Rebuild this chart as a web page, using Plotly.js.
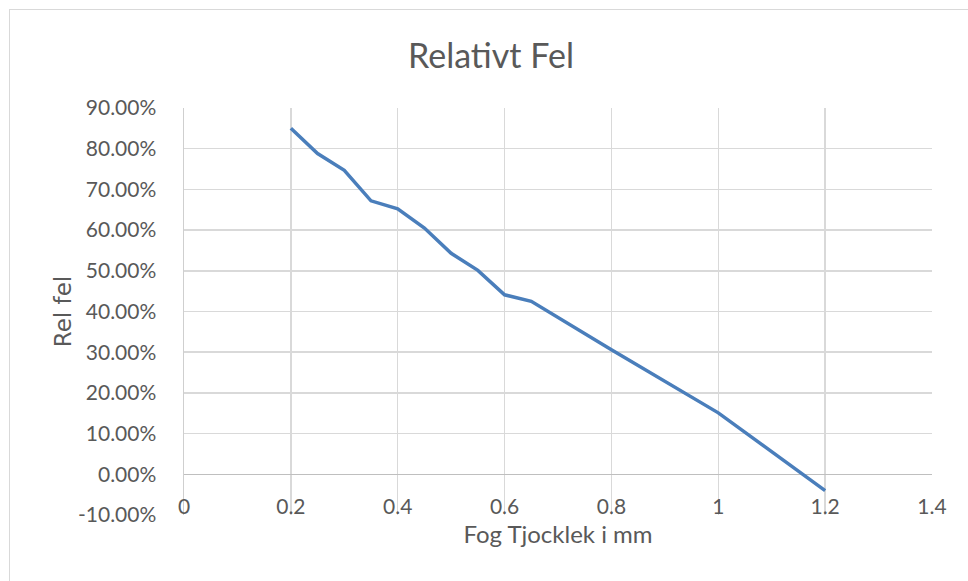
<!DOCTYPE html>
<html>
<head>
<meta charset="utf-8">
<script src="https://cdn.plot.ly/plotly-3.0.1.min.js"></script>
<style>
  html, body { margin: 0; padding: 0; background: #ffffff; overflow: hidden; }
  #frame { position: absolute; left: 9px; top: 9px; width: 980px; height: 600px; border: 1px solid #d9d9d9; box-sizing: border-box; }
  #chart { position: absolute; left: 0; top: 0; width: 968px; height: 581px; }
</style>
</head>
<body>
<div id="frame"></div>
<div id="chart"></div>
<script>
// Fog thickness (mm) and relative error (fraction)
const thickness = [0.2, 0.25, 0.3, 0.35, 0.4, 0.45, 0.5, 0.55, 0.6, 0.65, 0.8, 1.0, 1.2];
const relError  = [0.850, 0.788, 0.747, 0.672, 0.652, 0.605, 0.543, 0.501, 0.441, 0.425, 0.306, 0.151, -0.040];

const chartTitle = 'Relativt Fel';
const xTitle = 'Fog Tjocklek i mm';
const yTitle = 'Rel fel';
const xTickVals = [0, 0.2, 0.4, 0.6, 0.8, 1, 1.2, 1.4];
const xTickText = ['0', '0.2', '0.4', '0.6', '0.8', '1', '1.2', '1.4'];
const yTickVals = [-0.1, 0, 0.1, 0.2, 0.3, 0.4, 0.5, 0.6, 0.7, 0.8, 0.9];
const yTickText = ['-10.00%', '0.00%', '10.00%', '20.00%', '30.00%', '40.00%', '50.00%', '60.00%', '70.00%', '80.00%', '90.00%'];

const textColor = '#595959';
const fontFam = 'Lato, "Open Sans", sans-serif';

const trace = {
  x: thickness,
  y: relError,
  type: 'scatter',
  mode: 'lines',
  line: { color: '#4a7ebb', width: 3.5 },
  hoverinfo: 'x+y'
};

const layout = {
  width: 968,
  height: 581,
  paper_bgcolor: 'rgba(0,0,0,0)',
  plot_bgcolor: '#ffffff',
  margin: { l: 184, r: 36, t: 108, b: 66 },
  showlegend: false,
  font: { family: fontFam, color: textColor },
  title: {
    text: chartTitle,
    font: { family: fontFam, size: 34, color: textColor },
    x: 491 / 968, xref: 'container', xanchor: 'center',
    y: 1 - 56 / 581, yref: 'container', yanchor: 'middle'
  },
  xaxis: {
    range: [0, 1.4],
    tickmode: 'array',
    tickvals: xTickVals,
    ticktext: xTickText,
    anchor: 'free',
    position: 0.1,
    showgrid: true,
    gridcolor: '#d9d9d9',
    gridwidth: 1.5,
    zeroline: false,
    showline: false,
    ticks: '',
    ticklabelstandoff: 18,
    tickfont: { family: fontFam, size: 21, color: textColor },
    title: {
      text: xTitle,
      font: { family: fontFam, size: 24, color: textColor },
      standoff: 8
    }
  },
  yaxis: {
    range: [-0.1, 0.9],
    tickmode: 'array',
    tickvals: yTickVals,
    ticktext: yTickText,
    showgrid: true,
    gridcolor: '#d9d9d9',
    gridwidth: 1.5,
    zeroline: true,
    zerolinecolor: '#bfbfbf',
    zerolinewidth: 1.5,
    showline: true,
    linecolor: '#cfcfcf',
    linewidth: 1.5,
    ticks: '',
    ticklabelstandoff: 22,
    tickfont: { family: fontFam, size: 21, color: textColor },
    title: {
      text: yTitle,
      font: { family: '"DejaVu Sans", Verdana, sans-serif', size: 23, color: textColor },
      standoff: 0
    }
  }
};

Plotly.newPlot('chart', [trace], layout, { displayModeBar: false, staticPlot: true });
</script>
</body>
</html>
